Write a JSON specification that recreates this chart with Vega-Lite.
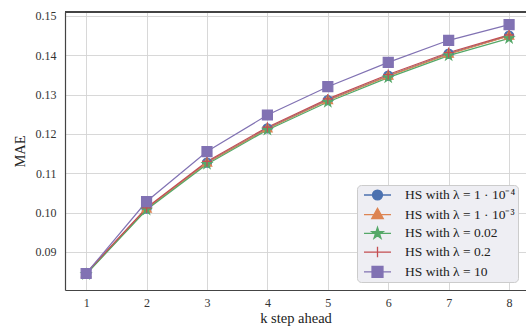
{
  "$schema": "https://vega.github.io/schema/vega-lite/v6.json",
  "width": 461,
  "height": 278,
  "autosize": {"type": "none"},
  "padding": {"left": 65, "top": 12, "right": 0, "bottom": 39},
  "background": "white",
  "config": {
    "view": {"stroke": null},
    "font": "Liberation Serif",
    "axis": {
      "grid": true,
      "gridColor": "#d4d4d4",
      "gridWidth": 0.9,
      "domainColor": "#444444",
      "domainWidth": 1.2,
      "ticks": false,
      "labelFont": "Liberation Serif",
      "titleFont": "Liberation Serif",
      "labelColor": "#333333",
      "titleColor": "#222222",
      "labelFontSize": 12,
      "titleFontSize": 14.5,
      "titleFontWeight": "normal"
    }
  },
  "data": {
    "values": [
      {"k": 1, "series": "HS with λ = 1 · 10⁻⁴", "marker": "o", "mae": 0.0845},
      {"k": 2, "series": "HS with λ = 1 · 10⁻⁴", "marker": "o", "mae": 0.1010},
      {"k": 3, "series": "HS with λ = 1 · 10⁻⁴", "marker": "o", "mae": 0.1127},
      {"k": 4, "series": "HS with λ = 1 · 10⁻⁴", "marker": "o", "mae": 0.1214},
      {"k": 5, "series": "HS with λ = 1 · 10⁻⁴", "marker": "o", "mae": 0.1286},
      {"k": 6, "series": "HS with λ = 1 · 10⁻⁴", "marker": "o", "mae": 0.1348},
      {"k": 7, "series": "HS with λ = 1 · 10⁻⁴", "marker": "o", "mae": 0.1404},
      {"k": 8, "series": "HS with λ = 1 · 10⁻⁴", "marker": "o", "mae": 0.1450},
      {"k": 1, "series": "HS with λ = 1 · 10⁻³", "marker": "^", "mae": 0.0844},
      {"k": 2, "series": "HS with λ = 1 · 10⁻³", "marker": "^", "mae": 0.1009},
      {"k": 3, "series": "HS with λ = 1 · 10⁻³", "marker": "^", "mae": 0.1126},
      {"k": 4, "series": "HS with λ = 1 · 10⁻³", "marker": "^", "mae": 0.1213},
      {"k": 5, "series": "HS with λ = 1 · 10⁻³", "marker": "^", "mae": 0.1285},
      {"k": 6, "series": "HS with λ = 1 · 10⁻³", "marker": "^", "mae": 0.1347},
      {"k": 7, "series": "HS with λ = 1 · 10⁻³", "marker": "^", "mae": 0.1403},
      {"k": 8, "series": "HS with λ = 1 · 10⁻³", "marker": "^", "mae": 0.1449},
      {"k": 1, "series": "HS with λ = 0.02", "marker": "*", "mae": 0.0843},
      {"k": 2, "series": "HS with λ = 0.02", "marker": "*", "mae": 0.1007},
      {"k": 3, "series": "HS with λ = 0.02", "marker": "*", "mae": 0.1123},
      {"k": 4, "series": "HS with λ = 0.02", "marker": "*", "mae": 0.1210},
      {"k": 5, "series": "HS with λ = 0.02", "marker": "*", "mae": 0.1281},
      {"k": 6, "series": "HS with λ = 0.02", "marker": "*", "mae": 0.1343},
      {"k": 7, "series": "HS with λ = 0.02", "marker": "*", "mae": 0.1399},
      {"k": 8, "series": "HS with λ = 0.02", "marker": "*", "mae": 0.1443},
      {"k": 1, "series": "HS with λ = 0.2", "marker": "+", "mae": 0.0846},
      {"k": 2, "series": "HS with λ = 0.2", "marker": "+", "mae": 0.1012},
      {"k": 3, "series": "HS with λ = 0.2", "marker": "+", "mae": 0.1130},
      {"k": 4, "series": "HS with λ = 0.2", "marker": "+", "mae": 0.1217},
      {"k": 5, "series": "HS with λ = 0.2", "marker": "+", "mae": 0.1289},
      {"k": 6, "series": "HS with λ = 0.2", "marker": "+", "mae": 0.1351},
      {"k": 7, "series": "HS with λ = 0.2", "marker": "+", "mae": 0.1407},
      {"k": 8, "series": "HS with λ = 0.2", "marker": "+", "mae": 0.1452},
      {"k": 1, "series": "HS with λ = 10", "marker": "s", "mae": 0.0845},
      {"k": 2, "series": "HS with λ = 10", "marker": "s", "mae": 0.1028},
      {"k": 3, "series": "HS with λ = 10", "marker": "s", "mae": 0.1155},
      {"k": 4, "series": "HS with λ = 10", "marker": "s", "mae": 0.1248},
      {"k": 5, "series": "HS with λ = 10", "marker": "s", "mae": 0.1320},
      {"k": 6, "series": "HS with λ = 10", "marker": "s", "mae": 0.1382},
      {"k": 7, "series": "HS with λ = 10", "marker": "s", "mae": 0.1438},
      {"k": 8, "series": "HS with λ = 10", "marker": "s", "mae": 0.1478}
    ]
  },
  "layer": [
    {
      "mark": {"type": "line", "strokeWidth": 1.2},
      "encoding": {
        "x": {
          "field": "k", "type": "quantitative",
          "scale": {"domain": [0.65, 8.28], "nice": false, "zero": false},
          "axis": {"values": [1, 2, 3, 4, 5, 6, 7, 8], "title": "k step ahead", "labelPadding": 7, "titlePadding": 3, "format": "d"}
        },
        "y": {
          "field": "mae", "type": "quantitative",
          "scale": {"domain": [0.0803, 0.151], "nice": false, "zero": false},
          "axis": {"values": [0.09, 0.10, 0.11, 0.12, 0.13, 0.14, 0.15], "format": ".2f", "title": "MAE", "labelPadding": 9, "titlePadding": 8}
        },
        "color": {
          "field": "series", "type": "nominal",
          "scale": {
            "domain": ["HS with λ = 1 · 10⁻⁴", "HS with λ = 1 · 10⁻³", "HS with λ = 0.02", "HS with λ = 0.2", "HS with λ = 10"],
            "range": ["#4C72B0", "#DD8452", "#55A868", "#C44E52", "#8172B3"]
          },
          "legend": {
            "orient": "none",
            "legendX": 292,
            "legendY": 173,
            "title": null,
            "fillColor": "#EEEEF3",
            "strokeColor": "#CCCCCC",
            "cornerRadius": 4,
            "padding": 2,
            "symbolSize": 196,
            "symbolStrokeWidth": 1.3,
            "labelFont": "Liberation Serif",
            "labelFontSize": 13.5,
            "labelColor": "#222222",
            "labelOffset": 30,
            "rowPadding": 2.7,
            "encode": {
              "symbols": {
                "update": {
                  "shape": {"signal": "['M-0.43,0L3.43,0M2.21,0A0.71,0.71 0 1,1 0.79,0A0.71,0.71 0 1,1 2.21,0Z', 'M-0.43,0L3.43,0M1.5,-0.9L2.32,0.55L0.68,0.55Z', 'M-0.43,0L3.43,0M1.5,-0.85L1.691,-0.263L2.308,-0.263L1.809,0.1L2.0,0.688L1.5,0.325L1.0,0.688L1.191,0.1L0.692,-0.263L1.309,-0.263Z', 'M-0.43,0L3.43,0M1.5,-0.75L1.5,0.75', 'M-0.43,0L3.43,0M0.72,-0.78L2.28,-0.78L2.28,0.78L0.72,0.78Z'][datum.index]"},
                  "size": {"value": 196},
                  "fill": {"scale": "color", "field": "value"},
                  "stroke": {"scale": "color", "field": "value"},
                  "strokeWidth": {"value": 1.3},
                  "opacity": {"value": 1},
                  "fillOpacity": {"value": 1},
                  "strokeOpacity": {"value": 1}
                }
              }
            }
          }
        }
      }
    },
    {
      "mark": {"type": "point", "filled": true, "opacity": 1, "strokeWidth": 1.2, "size": 100},
      "encoding": {
        "x": {"field": "k", "type": "quantitative"},
        "y": {"field": "mae", "type": "quantitative"},
        "color": {"field": "series", "type": "nominal"},
        "stroke": {
          "field": "marker", "type": "nominal",
          "scale": {
            "domain": ["o", "^", "*", "+", "s"],
            "range": ["#4C72B0", "#DD8452", "#55A868", "#C44E52", "#8172B3"]
          },
          "legend": null
        },
        "shape": {
          "field": "marker", "type": "nominal",
          "scale": {
            "domain": ["o", "^", "*", "+", "s"],
            "range": [
              "M0.92,0A0.92,0.92 0 1,1 -0.92,0A0.92,0.92 0 1,1 0.92,0Z",
              "M0,-1L0.95,0.62L-0.95,0.62Z",
              "M0,-1L0.2245,-0.309L0.951,-0.309L0.363,0.118L0.588,0.809L0,0.382L-0.588,0.809L-0.363,0.118L-0.951,-0.309L-0.2245,-0.309Z",
              "M-1,0L1,0M0,-1L0,1",
              "M-1,-1L1,-1L1,1L-1,1Z"
            ]
          },
          "legend": null
        }
      }
    },
    {
      "mark": {"type": "rule", "color": "#444444", "strokeWidth": 1.2},
      "encoding": {"y": {"datum": 0.151}}
    }
  ]
}
